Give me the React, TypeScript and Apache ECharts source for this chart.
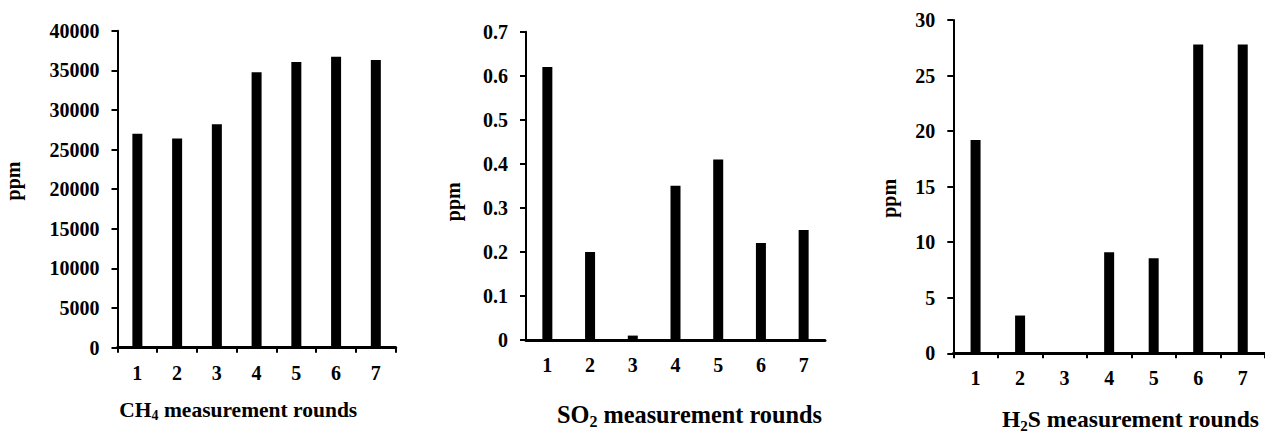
import React, { useEffect, useRef } from "react";
import * as echarts from "echarts";

const rounds = ["1", "2", "3", "4", "5", "6", "7"];
const ch4Values = [27000, 26400, 28200, 34750, 36050, 36700, 36300];
const so2Values = [0.62, 0.2, 0.01, 0.35, 0.41, 0.22, 0.25];
const h2sValues = [19.2, 3.4, 0, 9.1, 8.55, 27.8, 27.8];

const yAxisUnit = "ppm";
const ch4Title = "CH{sub|4} measurement rounds";
const so2Title = "SO{sub|2} measurement rounds";
const h2sTitle = "H{sub|2}S measurement rounds";

const FONT = "'Liberation Serif', 'Times New Roman', serif";

export default function App() {
  const ref = useRef<HTMLDivElement>(null);
  useEffect(() => {
    if (!ref.current) return;
    const chart = echarts.init(ref.current, undefined, { renderer: "svg" });

    const grids = [
      { left: 117.5, top: 30.7, width: 278.2, height: 317 },
      { left: 526, top: 31.7, width: 299, height: 308.3 },
      { left: 953.3, top: 20, width: 320, height: 333.3 },
    ];
    const yRanges = [
      { max: 40000, interval: 5000 },
      { max: 0.7, interval: 0.1 },
      { max: 30, interval: 5 },
    ];
    const xTicks = [true, false, true];
    const dataSets = [ch4Values, so2Values, h2sValues];

    const labelStyle = {
      color: "#000",
      fontFamily: FONT,
      fontWeight: "bold" as const,
      fontSize: 20,
    };

    const titleText = (text: string, x: number, y: number, size: number) => ({
      type: "text",
      x,
      y,
      style: {
        text,
        fill: "#000",
        fontFamily: FONT,
        fontWeight: "bold",
        fontSize: size,
        align: "left",
        verticalAlign: "middle",
        rich: {
          sub: {
            fontFamily: FONT,
            fontWeight: "bold",
            fontSize: Math.round(size * 0.65),
            verticalAlign: "bottom",
            lineHeight: size + 4.5,
            fill: "#000",
          },
        },
      },
    });

    const ppmText = (x: number, y: number) => ({
      type: "text",
      x,
      y,
      rotation: Math.PI / 2,
      style: {
        text: yAxisUnit,
        fill: "#000",
        fontFamily: FONT,
        fontWeight: "bold",
        fontSize: 20,
        align: "center",
        verticalAlign: "middle",
      },
    });

    chart.setOption({
      animation: false,
      grid: grids.map((g) => ({ ...g, containLabel: false })),
      xAxis: grids.map((_, i) => ({
        type: "category",
        gridIndex: i,
        data: rounds,
        boundaryGap: true,
        axisLine: { show: true, lineStyle: { color: "#000", width: 3 } },
        axisTick: {
          show: xTicks[i],
          length: 5,
          lineStyle: { color: "#000", width: 2 },
        },
        axisLabel: { ...labelStyle, margin: 15, interval: 0 },
        splitLine: { show: false },
      })),
      yAxis: grids.map((_, i) => ({
        type: "value",
        gridIndex: i,
        min: 0,
        max: yRanges[i].max,
        interval: yRanges[i].interval,
        axisLine: { show: true, lineStyle: { color: "#000", width: 2 } },
        axisTick: { show: true, length: 6, lineStyle: { color: "#000", width: 2 } },
        axisLabel: {
          ...labelStyle,
          margin: 18,
          formatter: (v: number) => String(Number(v.toFixed(2))),
        },
        splitLine: { show: false },
      })),
      series: dataSets.map((d, i) => ({
        type: "bar",
        xAxisIndex: i,
        yAxisIndex: i,
        data: d,
        barWidth: 10,
        itemStyle: { color: "#000" },
      })),
      graphic: [
        titleText(ch4Title, 119.3, 409.7, 21.5),
        titleText(so2Title, 557, 414.7, 24.3),
        titleText(h2sTitle, 1002, 419.3, 23.6),
        ppmText(12.5, 181),
        ppmText(452.5, 201.7),
        ppmText(889, 198.3),
      ],
    });
    return () => chart.dispose();
  }, []);
  return (
    <div
      ref={ref}
      style={{ position: "absolute", left: 0, top: 0, width: 1265, height: 434, background: "#fff" }}
    />
  );
}
